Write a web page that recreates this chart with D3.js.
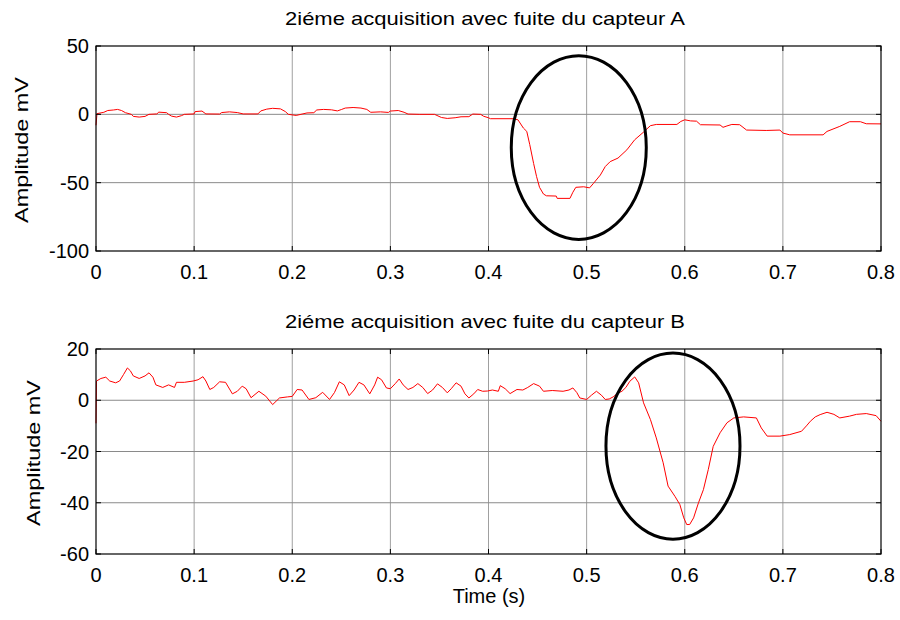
<!DOCTYPE html>
<html>
<head>
<meta charset="utf-8">
<script src="https://cdn.jsdelivr.net/npm/d3@7"></script>
<style>
  body { margin: 0; background: #fff; }
  text { font-family: "Liberation Sans", Arial, sans-serif; fill: #000; }
</style>
</head>
<body>
<div id="chart"></div>
<script>
// Capteur A
const timeA = [0, 0.001, 0.008, 0.012, 0.018, 0.022, 0.026, 0.03, 0.036, 0.038, 0.044, 0.05, 0.054, 0.062, 0.064, 0.072, 0.074, 0.077, 0.082, 0.087, 0.09,
  0.1, 0.101, 0.108, 0.112, 0.126, 0.128, 0.136, 0.144, 0.15, 0.165, 0.168, 0.174, 0.18, 0.188, 0.193, 0.196,
  0.204, 0.21, 0.215, 0.222, 0.225, 0.232, 0.24, 0.246, 0.25, 0.254, 0.262, 0.27, 0.276, 0.28, 0.29, 0.298,
  0.3, 0.308, 0.314, 0.318, 0.33, 0.345, 0.352, 0.358, 0.366, 0.372, 0.38, 0.384, 0.392, 0.395, 0.4,
  0.402, 0.425, 0.43, 0.4355, 0.439, 0.442, 0.446, 0.449, 0.452, 0.456, 0.459, 0.469, 0.47, 0.483, 0.486, 0.489, 0.497,
  0.503, 0.507, 0.514, 0.519, 0.524, 0.532, 0.541, 0.549, 0.558, 0.565, 0.571, 0.592, 0.596,
  0.6, 0.606, 0.612, 0.616, 0.636, 0.639, 0.643, 0.648, 0.656, 0.663, 0.683, 0.697,
  0.7, 0.707, 0.741, 0.745, 0.758, 0.768, 0.779, 0.785, 0.8];
const ampA = [-8, 0.5, 1.5, 2.8, 3.2, 3.6, 2.8, 1.2, 0, -1.5, -2, -1.5, 0, 0.3, 1.6, 1.2, 0, -1.3, -2, -1, 0,
  0.3, 2, 2.4, 0.3, 0.2, 1.3, 1.8, 1.3, 0.3, 0.3, 2.5, 3.8, 4.4, 4, 2, 0,
  -0.8, 0.2, 1, 1.2, 3.2, 3.6, 3.3, 2.5, 3.5, 4.6, 5, 4.6, 3.6, 1.5, 1.8, 1.4,
  2.4, 2.8, 1.5, 0.2, 0, 0, -2.3, -3, -2.5, -1.8, -1.7, 0.2, 0, -1.4, -2.5,
  -3.2, -3.2, -4, -10, -12.5, -22, -36, -45.6, -53.4, -58.3, -59.6, -59.8, -61.5, -61.5, -57, -53.4, -53,
  -53.8, -50.5, -44.4, -38.2, -34.6, -32, -26, -18.6, -13, -8.3, -7.4, -7.4, -5.2,
  -4, -4.8, -5, -7.6, -7.8, -9.5, -8.5, -7.4, -7.6, -11.5, -11.8, -11.5,
  -13.7, -15, -15, -12.5, -8.8, -5.4, -5.4, -6.9, -7];

// Capteur B
const timeB = [0, 0.0005, 0.005, 0.01, 0.014, 0.02, 0.024, 0.028, 0.032, 0.035, 0.038, 0.044, 0.05, 0.054, 0.058, 0.061, 0.068, 0.074, 0.08, 0.082, 0.09, 0.099,
  0.104, 0.109, 0.112, 0.116, 0.12, 0.126, 0.132, 0.139, 0.144, 0.149, 0.153, 0.158, 0.166, 0.173, 0.18, 0.187, 0.195,
  0.2, 0.205, 0.21, 0.217, 0.224, 0.231, 0.238, 0.243, 0.248, 0.253, 0.258, 0.263, 0.268, 0.273, 0.279, 0.284, 0.287, 0.291, 0.296,
  0.3, 0.305, 0.309, 0.313, 0.318, 0.323, 0.328, 0.333, 0.338, 0.343, 0.348, 0.353, 0.358, 0.362, 0.367, 0.372, 0.376, 0.38, 0.385, 0.389, 0.394, 0.399,
  0.404, 0.41, 0.412, 0.417, 0.422, 0.429, 0.435, 0.44, 0.446, 0.452, 0.456, 0.465, 0.476, 0.482, 0.486, 0.49, 0.493,
  0.5, 0.505, 0.51, 0.515, 0.519, 0.523, 0.527, 0.532, 0.536, 0.54, 0.544, 0.549, 0.553, 0.558, 0.565, 0.571, 0.578, 0.583, 0.59, 0.595, 0.599,
  0.602, 0.605, 0.609, 0.614, 0.619, 0.624, 0.629, 0.636, 0.643, 0.65, 0.66, 0.673, 0.678, 0.684, 0.697,
  0.707, 0.719, 0.724, 0.728, 0.733, 0.738, 0.745, 0.752, 0.758, 0.768, 0.775, 0.785, 0.795, 0.8];
const ampB = [-9, 7.5, 8.5, 9, 7.5, 6.8, 7.5, 10, 12.6, 11.5, 9.5, 8.5, 9.5, 10.7, 9, 6, 5, 6, 5, 7, 7, 7.5,
  8, 9.2, 7.5, 4.2, 5, 7.2, 7, 2.5, 3.5, 5.5, 4.5, 1, 3.5, 1.6, -1.7, 0.9, 1.3,
  1.5, 4.2, 4, 0.3, 1, 3.1, 0.3, 3, 7.2, 6, 1.8, 4, 7, 6, 2.5, 6, 9, 8, 4.8,
  4.5, 6.5, 8.3, 6, 4.2, 5, 6.5, 5, 2.6, 4, 6.4, 5, 2.9, 4.5, 6.8, 5.5, 2.5, 0.9, 2.5, 4.2, 3.5, 3.6,
  4, 3.5, 5.7, 4.5, 2.6, 4.2, 4, 5, 6.5, 5.5, 3.5, 3.8, 3.5, 4, 4.8, 3, 0.9,
  0.3, 2, 3.5, 2, 0.3, 0.5, 1.3, 2.8, 3.5, 5, 7.4, 9.1, 6.8, -1, -7.5, -14.7, -24.4, -33.5, -37.5, -40.7, -45.9,
  -48.5, -48.5, -45.9, -40, -34.9, -27, -18, -12.7, -8.8, -6.9, -6.5, -6.9, -10.8, -14, -14,
  -13.4, -12.1, -10, -8.2, -6.5, -5.6, -4.7, -5.5, -6.9, -6.2, -5.5, -5.2, -6, -8.2];

const xTicks = [0, 0.1, 0.2, 0.3, 0.4, 0.5, 0.6, 0.7, 0.8];
const yTicksA = [-100, -50, 0, 50];
const yTicksB = [-60, -40, -20, 0, 20];
const titles = ['2iéme acquisition avec fuite du capteur A', '2iéme acquisition avec fuite du capteur B'];

// ellipse annotations: centre (t, mV) and half-sizes (s, mV)
const ringA = [0.492, -24.3, 0.0688, 67.2];
const ringB = [0.588, -17.9, 0.0683, 36.3];

const W = 900, H = 620;
const svg = d3.select('#chart').append('svg')
  .attr('width', W).attr('height', H);

const x = d3.scaleLinear().domain([0, 0.8]).range([96, 881]);

function panel(top, yDomain, yTicks, times, amps, title, ring, labelX) {
  const y = d3.scaleLinear().domain(yDomain).range([top + 205, top]);
  const g = svg.append('g');

  // grid
  g.selectAll('.gx').data(xTicks.slice(1, -1)).join('line')
    .attr('x1', d => x(d)).attr('x2', d => x(d))
    .attr('y1', y.range()[1]).attr('y2', y.range()[0])
    .attr('stroke', '#a0a0a0').attr('stroke-width', 1);
  g.selectAll('.gy').data(yTicks.slice(1, -1)).join('line')
    .attr('x1', 96).attr('x2', 881)
    .attr('y1', d => y(d)).attr('y2', d => y(d))
    .attr('stroke', '#8a8a8a').attr('stroke-width', 1);

  // signal
  const line = d3.line()
    .x((d, i) => x(times[i]))
    .y(d => y(d));
  g.append('path')
    .attr('d', line(amps))
    .attr('fill', 'none')
    .attr('stroke', '#ff0000')
    .attr('stroke-width', 1);

  // annotation ellipse
  g.append('ellipse')
    .attr('cx', x(ring[0])).attr('cy', y(ring[1]))
    .attr('rx', x(ring[2]) - x(0)).attr('ry', y(0) - y(ring[3]))
    .attr('fill', 'none').attr('stroke', '#000').attr('stroke-width', 3);

  // box
  g.append('rect')
    .attr('x', 96).attr('y', top).attr('width', 785).attr('height', 205)
    .attr('fill', 'none').attr('stroke', '#000').attr('stroke-width', 1.2);

  // inner ticks
  const tl = 5;
  xTicks.forEach(t => {
    g.append('line').attr('x1', x(t)).attr('x2', x(t)).attr('y1', top + 205).attr('y2', top + 205 - tl).attr('stroke', '#000');
    g.append('line').attr('x1', x(t)).attr('x2', x(t)).attr('y1', top).attr('y2', top + tl).attr('stroke', '#000');
  });
  yTicks.forEach(v => {
    g.append('line').attr('x1', 96).attr('x2', 96 + tl).attr('y1', y(v)).attr('y2', y(v)).attr('stroke', '#000');
    g.append('line').attr('x1', 881).attr('x2', 881 - tl).attr('y1', y(v)).attr('y2', y(v)).attr('stroke', '#000');
  });

  // tick labels
  g.selectAll('.xl').data(xTicks).join('text')
    .attr('x', d => x(d)).attr('y', top + 233)
    .attr('text-anchor', 'middle').attr('font-size', 20)
    .text(d => d3.format('~g')(d));
  g.selectAll('.yl').data(yTicks).join('text')
    .attr('x', 89).attr('y', d => y(d) + 7)
    .attr('text-anchor', 'end').attr('font-size', 20)
    .text(d => d);

  // title + y label
  g.append('text')
    .attr('x', 485).attr('y', top - 21)
    .attr('text-anchor', 'middle').attr('font-size', 19)
    .attr('textLength', 400).attr('lengthAdjust', 'spacingAndGlyphs')
    .text(title);
  g.append('text')
    .attr('transform', `translate(${labelX},${top + 104}) rotate(-90)`)
    .attr('text-anchor', 'middle').attr('dominant-baseline', 'central')
    .attr('font-size', 19)
    .attr('textLength', 146).attr('lengthAdjust', 'spacingAndGlyphs')
    .text('Amplitude mV');
}

panel(46, [-100, 50], yTicksA, timeA, ampA, titles[0], ringA, 21);
panel(349, [-60, 20], yTicksB, timeB, ampB, titles[1], ringB, 33);

svg.append('text')
  .attr('x', 489).attr('y', 603)
  .attr('text-anchor', 'middle').attr('font-size', 20)
  .text('Time (s)');
</script>
</body>
</html>
